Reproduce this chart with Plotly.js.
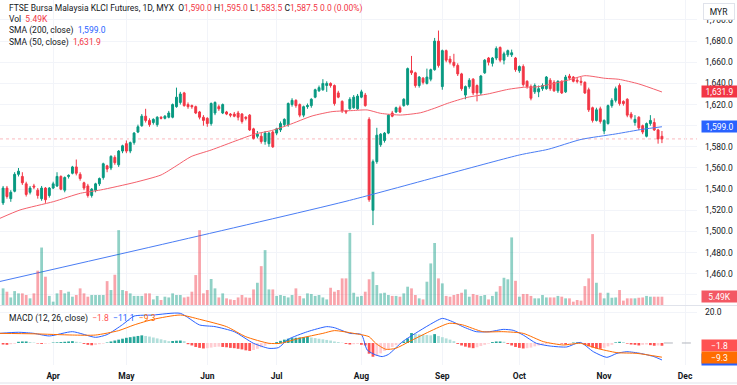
<!DOCTYPE html>
<html>
<head>
<meta charset="utf-8">
<script src="https://cdn.plot.ly/plotly-3.0.1.min.js"></script>
<style>html,body{margin:0;padding:0;background:#fff;}#chart{width:737px;height:385px;}</style>
</head>
<body>
<div id="chart"></div>
<script>
// ---- DATA (index = trading day from late March to 22 Nov) ----
const OPEN = [1527,1541,1531,1538,1554,1552,1545,1537,1543,1539,1531,1541,1534,1541,1543,1552,1539,1552,1555,1561,
1554,1546,1543,1534,1539,1545,1551,1562,1560,1570,1563,1576,1583,1576,1584,1594,1600,1609,1605,1603,
1601,1608,1607,1608,1608,1618,1622,1631,1620,1619,1618,1613,1608,1607,1602,1612,1618,1612,1613,1611,
1611,1612,1611,1608,1610,1597,1590,1590,1585,1583,1594,1593,1596,1601,1601,1620,1624,1620,1610,1618,
1619,1627,1633,1634,1638,1640,1638,1631,1623,1614,1616,1617,1616,1627,1629,1606,1520,1566,1582,1586,
1593,1612,1613,1617,1619,1620,1652,1650,1638,1645,1640,1644,1653,1680,1637,1671,1663,1660,1657,1649,
1629,1637,1644,1638,1631,1650,1664,1659,1664,1674,1662,1667,1667,1664,1652,1656,1642,1637,1632,1632,
1635,1635,1643,1641,1633,1642,1632,1647,1646,1643,1642,1641,1634,1617,1605,1616,1595,1602,1619,1624,
1638,1623,1625,1611,1603,1608,1600,1590,1602,1603,1596,1590];
const HIGH = [1543,1543,1539,1556,1560,1556,1547,1543,1545,1541,1543,1542,1542,1547,1556,1553,1552,1554,1562,1568,
1556,1547,1545,1541,1546,1551,1565,1563,1572,1572,1577,1582,1586,1585,1594,1601,1611,1616,1607,1607,
1609,1609,1610,1614,1621,1636,1632,1632,1622,1620,1619,1614,1610,1608,1622,1623,1620,1621,1614,1612,
1613,1614,1612,1609,1611,1598,1595,1593,1595,1594,1595,1598,1604,1607,1622,1626,1625,1621,1619,1621,
1626,1635,1638,1644,1642,1641,1639,1633,1624,1615,1627,1629,1630,1634,1631,1608,1568,1598,1593,1594,
1611,1614,1618,1619,1626,1655,1666,1651,1647,1646,1654,1654,1683,1690,1672,1672,1666,1668,1659,1650,
1638,1645,1645,1639,1648,1663,1665,1665,1675,1675,1670,1672,1672,1665,1657,1658,1643,1639,1640,1638,
1640,1647,1645,1643,1643,1643,1648,1649,1647,1646,1646,1642,1636,1618,1617,1618,1606,1620,1626,1637,
1640,1624,1626,1613,1610,1609,1601,1603,1610,1607,1597,1595];
const LOW = [1525,1531,1528,1537,1552,1544,1533,1535,1540,1531,1529,1527,1532,1540,1542,1539,1537,1550,1554,1553,
1548,1539,1532,1532,1537,1543,1549,1556,1558,1563,1561,1574,1574,1574,1582,1593,1599,1603,1599,1601,
1599,1606,1606,1607,1607,1617,1620,1618,1616,1616,1611,1606,1600,1599,1600,1610,1614,1611,1610,1608,
1608,1605,1602,1605,1595,1587,1588,1583,1582,1580,1579,1591,1594,1599,1599,1618,1617,1608,1608,1616,
1617,1626,1632,1633,1632,1636,1619,1626,1612,1611,1615,1616,1615,1626,1618,1528,1506,1564,1580,1584,
1592,1608,1612,1612,1618,1619,1648,1636,1636,1639,1639,1642,1652,1655,1634,1660,1658,1655,1647,1633,
1625,1635,1629,1623,1629,1649,1657,1656,1662,1660,1658,1665,1665,1651,1650,1637,1635,1624,1630,1627,
1633,1634,1633,1632,1631,1630,1631,1643,1641,1640,1638,1630,1613,1603,1604,1602,1592,1601,1617,1622,
1619,1619,1608,1606,1600,1596,1592,1589,1600,1595,1583,1583.5];
const CLOSE = [1541,1533,1537,1554,1557,1546,1535,1541,1542,1534,1541,1530,1541,1545,1552,1540,1551,1553,1561,1555,
1550,1541,1534,1540,1545,1550,1564,1559,1571,1565,1576,1581,1576,1584,1593,1599,1609,1605,1601,1606,
1608,1607,1609,1612,1620,1627,1630,1619,1618,1618,1612,1608,1605,1602,1621,1622,1616,1620,1611,1610,
1609,1608,1604,1607,1596,1588,1592,1585,1593,1593,1580,1597,1602,1606,1621,1624,1619,1610,1618,1619,
1625,1634,1636,1640,1640,1638,1621,1627,1614,1613,1625,1627,1628,1632,1619,1530,1566,1591,1592,1593,
1610,1609,1617,1613,1625,1654,1650,1638,1646,1641,1646,1653,1680,1657,1671,1662,1660,1657,1649,1635,
1637,1643,1631,1631,1647,1662,1660,1664,1673,1662,1668,1671,1669,1653,1656,1639,1637,1626,1638,1635,
1638,1646,1635,1633,1642,1631,1646,1645,1642,1642,1641,1631,1615,1605,1615,1604,1605,1619,1624,1635,
1621,1621,1610,1608,1606,1598,1594,1602,1605,1596,1587.5,1587.5];
const VOLUME = [11,8.8,5,9.2,7.7,7.7,6.6,4.4,7.7,22.7,38,18.7,6,2.2,7.7,9.9,7.7,8.8,5.5,6.6,
11,7.7,5.5,6.6,6.6,6.6,6.6,15.8,9.9,20,49.5,9.9,9.2,7.7,6,6,6,7.7,7.7,3.7,
6,3.3,5.5,5,7.7,6.6,6.6,5,5.5,8.8,19.8,49.5,7.7,9.9,17.2,11,5,7.7,4.4,3.7,
3.3,5,6.6,5,4.8,10.3,14.7,25.7,36.3,10.3,10.3,6,6.6,6,5,6.6,11,6,4.4,7.7,
7.3,6,6.6,5,3.7,11.4,8.8,9.9,17.6,17.6,47.7,8.1,5.5,6,8.8,17,22,13.2,7.7,8.1,
6.6,6,6,5.5,7.7,12.1,11,6.6,4.4,3.7,15.4,27.5,41,17.6,14.3,6,5.5,6.6,7.3,8.1,
10.3,5.5,7.3,6.6,6,6.6,3.7,6,8.8,12.5,18,17,44.7,16,5.5,7.3,7.3,6,4.4,4.4,
6.6,5,5,5,6,5.5,4.4,4.4,2.2,3.3,2.9,12.5,17.6,46.9,14.7,8.1,4.4,8.1,4.8,5,
9.9,2.9,4.4,4.4,4.4,4.8,5,6,5.5,5.5,5.5,5.49];
const MACD_HIST = [-1.0,-1.2,-0.8,-0.5,0.8,1.0,1.0,0.6,0.3,-0.3,-0.6,-0.4,-0.2,0.3,0.4,0.6,0.8,1.0,1.2,0.8,
0.4,-0.6,-1.2,-1.5,-1.3,-0.8,-0.4,0.3,1.0,1.6,2.2,2.8,3.4,3.8,4.2,4.6,5.0,4.6,4.2,3.6,
3.0,2.4,1.8,1.2,1.3,1.5,1.6,1.2,-0.8,-1.6,-2.6,-3.2,-3.6,-3.4,-3.0,-2.6,-2.4,-2.6,-2.8,-3.2,
-3.4,-3.8,-4.2,-4.8,-5.2,-4.6,-3.8,-2.8,-1.8,-0.8,-0.2,0.6,1.4,2.2,2.8,3.2,3.4,3.6,3.8,4.0,
3.6,3.2,2.8,2.4,2.0,1.6,1.0,0.6,0.2,-0.6,-1.0,-0.8,-0.6,-1.2,-1.6,-7.0,-9.0,-8.4,-6.8,-5.2,
-3.8,-2.6,-1.4,-0.5,1.0,3.0,6.5,6.0,5.6,5.4,5.2,5.0,5.8,4.6,3.8,3.0,2.2,1.2,-0.6,-1.6,
-2.4,-3.0,-3.4,-2.8,-2.0,-1.2,-0.4,0.6,1.0,1.0,0.8,-0.6,-1.6,-2.6,-3.2,-3.6,-3.4,-3.0,-2.2,-1.6,
-1.2,-0.8,-0.6,-0.4,-0.2,-0.4,-1.0,-0.5,0.3,0.4,0.2,-1.2,-2.2,-3.0,-3.6,-3.8,-3.2,-2.2,-1.2,0.4,
0.8,0.6,-0.4,-1.0,-1.2,-1.6,-1.2,-1.0,-1.4,-1.8,-1.6,-1.8];

// moving averages and MACD lines read at sample bars
const SMA200_X = [-1,44,89,134,141.5,150,159,166,171];
const SMA200_Y = [1452.5,1490,1528.5,1572.3,1577.7,1587,1592.2,1596.6,1599.0];
const SMA50_X = [-0.8,4.4,13.1,20.1,25.3,34,41,44.9,48.8,54,61,65.4,69.7,74.1,80.2,85.4,90.6,94.5,98,103.2,108.4,111.9,115.4,120.6,125.8,131.1,135,138.9,146.7,151,156.3,159.8,165,171];
const SMA50_Y = [1512.4,1520.3,1528.2,1536.1,1539.2,1546.2,1553.4,1561.9,1570.8,1577,1586.5,1592.2,1595.4,1600.7,1609.2,1613.3,1614.3,1614.9,1611.7,1610.1,1612.3,1616.4,1621.2,1626.9,1630,1634.4,1636.3,1636.9,1643.2,1647.3,1644.8,1643.9,1639.5,1631.9];
const MACD_X = [-1,4,8,12,18,24,27,31,34,39,46,51,55,60,65,69,71.5,74,79,84,86,90,93,94.5,96.7,98.4,100,103.7,107,110.6,114,116.7,119.3,122.8,126.3,129.8,132.4,135,138.4,142,146.3,149.8,153.2,156.7,159.3,161.9,165.4,168.9,171];
const MACD_Y = [6.3,7,6.3,4.6,7.4,3.7,5.5,12,17.6,18.3,19.4,11.8,10.7,7.4,-0.2,-3.5,-3,2.4,7.4,10.7,10,6.3,5.5,-4.6,-7.8,-8.9,-7.5,0.9,6.3,11.8,16.1,13.9,10.7,7.4,7.4,8.9,8.3,5.2,-0.2,-2,-2.6,0.4,-5.7,-9.4,-6.8,-5.7,-6.8,-8.9,-11.1];
const SIGNAL_X = [-1,8,18,24,30,34,39,46,51,58,63,69,72,77,83,86,91,95,96.7,99.3,101.9,105.4,110.6,115.8,119.3,124.5,129.8,135,140.2,145.4,149.8,154.1,159.3,164.5,171];
const SIGNAL_Y = [6.3,6,5.2,5.2,8.1,11.8,15.5,18.3,15.5,10.7,4.1,-0.2,-0.2,3.1,6.3,8.1,6.3,4.1,-0.2,-4.1,-3.5,0.9,7.4,12.9,11.8,7.4,7.4,6.3,0.9,-1.3,-0.2,-3.5,-6.3,-6.8,-9.3];

// tick labels
const MONTH_TICK_BARS = [13,32,53,71,93,114,134,156,177];
const MONTH_LABELS = ['Apr','May','Jun','Jul','Aug','Sep','Oct','Nov','Dec'];
const PRICE_TICKS = [1440,1460,1480,1500,1520,1540,1560,1580,1600,1620,1640,1660,1680,1700];
const MACD_TICKS = [20];

// ---- drawing ----
const UP = '#089981', DOWN = '#F23645';
const idx = CLOSE.map((_, i) => i);
const volColors = CLOSE.map((c, i) => c >= OPEN[i] ? 'rgba(8,153,129,0.45)' : 'rgba(242,54,69,0.45)');
const histColors = MACD_HIST.map((h, i) => {
  const p = i > 0 ? MACD_HIST[i - 1] : h;
  if (h >= 0) return h >= p ? '#26A69A' : '#B2DFDB';
  return h <= p ? '#FF5252' : '#FFCDD2';
});
const fmt = v => v.toLocaleString('en-US', {minimumFractionDigits: 1, maximumFractionDigits: 1});
const neg = s => s.replace('-', '\u2212');
const n = CLOSE.length - 1;
const lastO = OPEN[n], lastH = HIGH[n], lastL = LOW[n], lastC = CLOSE[n];
const chg = lastC - CLOSE[n - 1];

const traces = [
  {type: 'bar', x: idx, y: VOLUME, xaxis: 'x', yaxis: 'y3', width: 0.72,
   marker: {color: volColors, line: {width: 0}}, hoverinfo: 'skip'},
  {type: 'scatter', mode: 'lines', x: SMA200_X, y: SMA200_Y, xaxis: 'x', yaxis: 'y',
   line: {color: '#4A7DF4', width: 1, shape: 'spline', smoothing: 0.6}, hoverinfo: 'skip'},
  {type: 'scatter', mode: 'lines', x: SMA50_X, y: SMA50_Y, xaxis: 'x', yaxis: 'y',
   line: {color: '#F4606C', width: 1, shape: 'spline', smoothing: 0.6}, hoverinfo: 'skip'},
  {type: 'candlestick', x: idx, open: OPEN, high: HIGH, low: LOW, close: CLOSE, xaxis: 'x', yaxis: 'y',
   increasing: {line: {color: UP, width: 1}, fillcolor: UP},
   decreasing: {line: {color: DOWN, width: 1}, fillcolor: DOWN},
   whiskerwidth: 0, hoverinfo: 'skip'},
  {type: 'bar', x: idx, y: MACD_HIST, xaxis: 'x', yaxis: 'y2', width: 0.72,
   marker: {color: histColors, line: {width: 0}}, hoverinfo: 'skip'},
  {type: 'scatter', mode: 'lines', x: MACD_X, y: MACD_Y, xaxis: 'x', yaxis: 'y2',
   line: {color: '#2962FF', width: 1, shape: 'spline', smoothing: 0.6}, hoverinfo: 'skip'},
  {type: 'scatter', mode: 'lines', x: SIGNAL_X, y: SIGNAL_Y, xaxis: 'x', yaxis: 'y2',
   line: {color: '#FF6D00', width: 1, shape: 'spline', smoothing: 0.6}, hoverinfo: 'skip'}
];

const PH = 365, PW = 697; // plot area in px
const py = px => 1 - px / PH;
const FONT = 'Roboto, "Liberation Sans", sans-serif';
const TXT = '#131722';
const red = t => '<span style="color:#F23645">' + t + '</span>';

function boxAnn(text, y, yref, color) {
  return {xref: 'paper', x: 1, xshift: 4, xanchor: 'left', yref: yref, y: y, yanchor: 'middle',
          text: text, showarrow: false, bgcolor: color, width: 35, height: 11, borderpad: 0,
          font: {family: FONT, size: 8.5, color: '#ffffff'}};
}

const annotations = [
  {xref: 'paper', yref: 'paper', x: 7 / PW, y: py(8), xanchor: 'left', yanchor: 'middle', showarrow: false,
   font: {family: FONT, size: 8.5, color: TXT},
   text: 'FTSE Bursa Malaysia KLCI Futures, 1D, MYX&nbsp;&nbsp;O' + red(fmt(lastO)) + ' H' + red(fmt(lastH)) +
         ' L' + red(fmt(lastL)) + ' C' + red(fmt(lastC)) + ' ' + red(fmt(chg) + ' (' + (chg / CLOSE[n - 1] * 100).toFixed(2) + '%)')},
  {xref: 'paper', yref: 'paper', x: 7 / PW, y: py(19.5), xanchor: 'left', yanchor: 'middle', showarrow: false,
   font: {family: FONT, size: 8.5, color: TXT}, text: 'Vol&nbsp;&nbsp;' + red(VOLUME[n].toFixed(2) + 'K')},
  {xref: 'paper', yref: 'paper', x: 7 / PW, y: py(31), xanchor: 'left', yanchor: 'middle', showarrow: false,
   font: {family: FONT, size: 8.5, color: TXT},
   text: 'SMA (200, close)&nbsp;&nbsp;<span style="color:#2962FF">' + fmt(SMA200_Y[SMA200_Y.length - 1]) + '</span>'},
  {xref: 'paper', yref: 'paper', x: 7 / PW, y: py(42.5), xanchor: 'left', yanchor: 'middle', showarrow: false,
   font: {family: FONT, size: 8.5, color: TXT},
   text: 'SMA (50, close)&nbsp;&nbsp;' + red(fmt(SMA50_Y[SMA50_Y.length - 1]))},
  {xref: 'paper', yref: 'paper', x: 7 / PW, y: py(318), xanchor: 'left', yanchor: 'middle', showarrow: false,
   font: {family: FONT, size: 8.5, color: TXT},
   text: 'MACD (12, 26, close)&nbsp;&nbsp;<span style="color:#FF5252">' + neg(MACD_HIST[n].toFixed(1)) +
         '</span>&nbsp;&nbsp;<span style="color:#2962FF">' + neg(MACD_Y[MACD_Y.length - 1].toFixed(1)) +
         '</span>&nbsp;&nbsp;<span style="color:#FF6D00">' + neg(SIGNAL_Y[SIGNAL_Y.length - 1].toFixed(1)) + '</span>'},
  {xref: 'paper', yref: 'paper', x: 1, xshift: 6, y: py(11.5), xanchor: 'left', yanchor: 'middle', showarrow: false,
   text: 'MYR', bgcolor: '#ffffff', bordercolor: '#e0e3eb', borderwidth: 1, width: 28, height: 13,
   font: {family: FONT, size: 8.5, color: TXT}},
  boxAnn(fmt(SMA50_Y[SMA50_Y.length - 1]), SMA50_Y[SMA50_Y.length - 1], 'y', '#F23645'),
  boxAnn(fmt(SMA200_Y[SMA200_Y.length - 1]), SMA200_Y[SMA200_Y.length - 1], 'y', '#2962FF'),
  boxAnn(VOLUME[n].toFixed(2) + 'K', VOLUME[n], 'y3', '#F35864'),
  boxAnn(neg(MACD_Y[MACD_Y.length - 1].toFixed(1)), MACD_Y[MACD_Y.length - 1], 'y2', '#2962FF'),
  boxAnn(neg(MACD_HIST[n].toFixed(1)), MACD_HIST[n], 'y2', '#FF5252'),
  boxAnn(neg(SIGNAL_Y[SIGNAL_Y.length - 1].toFixed(1)), SIGNAL_Y[SIGNAL_Y.length - 1], 'y2', '#FF6D00')
];

const shapes = [
  {type: 'line', xref: 'paper', x0: 0, x1: 1, yref: 'y', y0: lastC, y1: lastC,
   line: {color: 'rgba(242,54,69,0.35)', width: 1, dash: 'dot'}, layer: 'below'},
  {type: 'line', xref: 'paper', x0: 0, x1: 1.06, yref: 'paper', y0: py(305.5), y1: py(305.5),
   line: {color: '#e0e3eb', width: 1}},
  {type: 'line', xref: 'x', x0: n + 0.5, x1: 180.1, yref: 'y2', y0: 0, y1: 0,
   line: {color: '#b2b5be', width: 1, dash: 'dash'}},
  {type: 'line', xref: 'paper', x0: 0, x1: 1.06, yref: 'paper', y0: py(383), y1: py(383),
   line: {color: '#e0e3eb', width: 1}}
];

const GRID = '#f2f4f9';
const layout = {
  width: 737, height: 385,
  margin: {l: 0, r: 40, t: 0, b: 20, pad: 0},
  paper_bgcolor: '#ffffff', plot_bgcolor: '#ffffff',
  showlegend: false, barmode: 'overlay', dragmode: false,
  font: {family: FONT, size: 8.5, color: TXT},
  xaxis: {domain: [0, 1], anchor: 'y2', range: [-0.8, 180.1], tickmode: 'array',
          tickvals: MONTH_TICK_BARS, ticktext: MONTH_LABELS, showgrid: true, gridcolor: GRID,
          zeroline: false, showline: false, ticks: '', ticklabelstandoff: 4,
          tickfont: {family: FONT, size: 8.5, color: TXT, weight: 'bold'},
          rangeslider: {visible: false}, fixedrange: true},
  yaxis: {domain: [1 - 305 / PH, 1], anchor: 'x', side: 'right', range: [1430.4, 1718.9],
          tickmode: 'array', tickvals: PRICE_TICKS, tickformat: ',.1f', showgrid: true, gridcolor: GRID,
          zeroline: false, showline: false, ticks: '', ticklabelstandoff: 7,
          tickfont: {family: FONT, size: 8.5, color: TXT}, fixedrange: true},
  yaxis3: {overlaying: 'y', anchor: 'x', side: 'right', range: [0, 201.7], visible: false, fixedrange: true},
  yaxis2: {domain: [0, 59 / PH], anchor: 'x', side: 'right', range: [-14.4, 24.2],
           tickmode: 'array', tickvals: MACD_TICKS, tickformat: '.1f', showgrid: true, gridcolor: GRID,
           zeroline: false, showline: false, ticks: '', ticklabelstandoff: 7,
           tickfont: {family: FONT, size: 8.5, color: TXT}, fixedrange: true},
  annotations: annotations,
  shapes: shapes
};

Plotly.newPlot('chart', traces, layout, {staticPlot: true, displayModeBar: false});
</script>
</body>
</html>
